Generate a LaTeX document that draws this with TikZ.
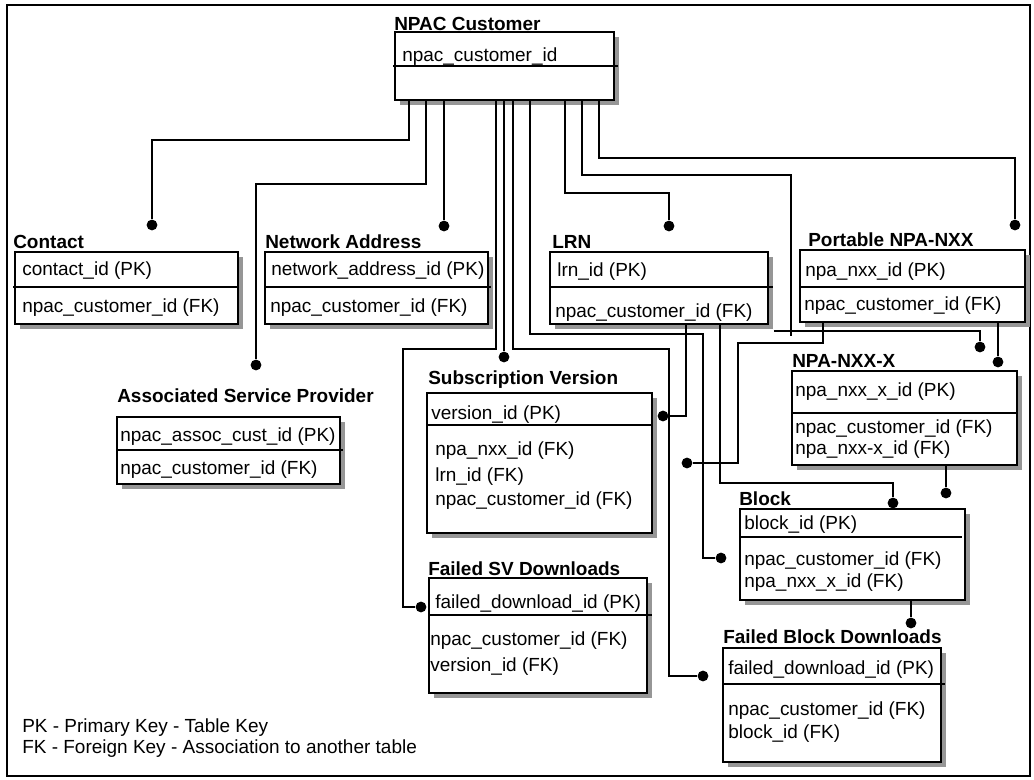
\documentclass[tikz,border=0pt]{standalone}
\usepackage{fontspec}
\setmainfont{Liberation Sans}
\usetikzlibrary{calc,fit,shadows}
\definecolor{shadowgray}{RGB}{150,150,150}
\tikzset{
  ent/.style={draw, line width=1.1pt, fill=white, inner sep=0pt,
    drop shadow={shadow xshift=0.13cm, shadow yshift=-0.13cm, fill=shadowgray, opacity=1}},
  ttl/.style={anchor=base west, inner sep=0pt, font=\fontsize{13.5}{16}\selectfont\bfseries},
  attr/.style={anchor=base west, inner sep=0pt},
  dot/.style={circle, fill=black, inner sep=0pt, minimum size=0.27cm},
  rel/.style={line width=1.1pt},
}
\begin{document}
\begin{tikzpicture}[x=0.025cm, y=-0.025cm, font=\fontsize{13.5}{16}\selectfont]
\useasboundingbox (0,0) rectangle (1034,780);
\draw[line width=1.4pt] (7,5) rectangle (1030,776);
% tables
\node[ent, fit={(395,32) (614,100)}] (cust) {};
\node[ent, fit={(15,252) (238,324)}] (contact) {};
\node[ent, fit={(265,252) (488,324)}] (netaddr) {};
\node[ent, fit={(550,252) (768,324)}] (lrn) {};
\node[ent, fit={(800,250) (1025,322)}] (pnxx) {};
\node[ent, fit={(117,417) (340,484)}] (assocsp) {};
\node[ent, line width=2pt, fit={(427,393) (652,533)}] (subver) {};
\node[ent, fit={(792,371) (1017,465)}] (nxxx) {};
\node[ent, fit={(740,509) (965,600)}] (block) {};
\node[ent, fit={(429,578) (647,693)}] (failsv) {};
\node[ent, fit={(723,648) (941,762)}] (failblk) {};
% key dividers
\draw[rel] (393,66) -- (618,66);
\draw[rel] (13,287) -- (238,287);
\draw[rel] (265,287) -- (491,287);
\draw[rel] (550,287) -- (773,287);
\draw[rel] (800,287) -- (1025,287);
\draw[rel] (117,450) -- (343,450);
\draw[rel] (427,425) -- (652,425);
\draw[rel] (792,413) -- (1017,413);
\draw[rel] (740,537) -- (962,537);
\draw[rel] (429,615) -- (652,615);
\draw[rel] (723,684) -- (945,684);
% titles and columns
\node[ttl] (cust-t) at (394,31) {NPAC Customer};
\node[attr] (cust-pk) at (402,62) {npac\_customer\_id};
\node[ttl] (contact-t) at (13,249) {Contact};
\node[attr] (contact-pk) at (22,276) {contact\_id (PK)};
\node[attr] (contact-fk) at (22,313) {npac\_customer\_id (FK)};
\node[ttl] (netaddr-t) at (265,249) {Network Address};
\node[attr] (netaddr-pk) at (271,276) {network\_address\_id (PK)};
\node[attr] (netaddr-fk) at (270,313) {npac\_customer\_id (FK)};
\node[ttl] (lrn-t) at (552,249) {LRN};
\node[attr] (lrn-pk) at (557,277) {lrn\_id (PK)};
\node[attr] (lrn-fk) at (555,318) {npac\_customer\_id (FK)};
\node[ttl] (pnxx-t) at (808,247) {Portable NPA-NXX};
\node[attr] (pnxx-pk) at (805,277) {npa\_nxx\_id (PK)};
\node[attr] (pnxx-fk) at (804,311) {npac\_customer\_id (FK)};
\node[ttl] (assocsp-t) at (117,403) {Associated Service Provider};
\node[attr] (assocsp-pk) at (120,442) {npac\_assoc\_cust\_id (PK)};
\node[attr] (assocsp-fk) at (120,475) {npac\_customer\_id (FK)};
\node[ttl] (subver-t) at (428,385) {Subscription Version};
\node[attr] (subver-pk) at (431,420) {version\_id (PK)};
\node[attr] (subver-fk1) at (435,456) {npa\_nxx\_id (FK)};
\node[attr] (subver-fk2) at (435,482) {lrn\_id (FK)};
\node[attr] (subver-fk3) at (435,506) {npac\_customer\_id (FK)};
\node[ttl] (nxxx-t) at (792,368) {NPA-NXX-X};
\node[attr] (nxxx-pk) at (795,397) {npa\_nxx\_x\_id (PK)};
\node[attr] (nxxx-fk1) at (795,434) {npac\_customer\_id (FK)};
\node[attr] (nxxx-fk2) at (795,455) {npa\_nxx-x\_id (FK)};
\node[ttl] (block-t) at (739,506) {Block};
\node[attr] (block-pk) at (744,530) {block\_id (PK)};
\node[attr] (block-fk1) at (744,566) {npac\_customer\_id (FK)};
\node[attr] (block-fk2) at (744,588) {npa\_nxx\_x\_id (FK)};
\node[ttl] (failsv-t) at (428,575) {Failed SV Downloads};
\node[attr] (failsv-pk) at (435,609) {failed\_download\_id (PK)};
\node[attr] (failsv-fk1) at (430,646) {npac\_customer\_id (FK)};
\node[attr] (failsv-fk2) at (430,671) {version\_id (FK)};
\node[ttl] (failblk-t) at (723,644) {Failed Block Downloads};
\node[attr] (failblk-pk) at (728,674) {failed\_download\_id (PK)};
\node[attr] (failblk-fk1) at (728,715) {npac\_customer\_id (FK)};
\node[attr] (failblk-fk2) at (728,738) {block\_id (FK)};
% legend
\node[attr] (key1) at (22,732) {PK - Primary Key - Table Key};
\node[attr] (key2) at (22,753) {FK - Foreign Key - Association to another table};
% relationship ends
\node[dot] (d-contact) at (152,225) {};
\node[dot] (d-netaddr) at (444,226) {};
\node[dot] (d-lrn) at (669,226) {};
\node[dot] (d-pnxx) at (1015,225) {};
\node[dot] (d-assocsp) at (256,365) {};
\node[dot] (d-subver1) at (504,357) {};
\node[dot] (d-subver2) at (663,416) {};
\node[dot] (d-subver3) at (687,463) {};
\node[dot] (d-nxxx1) at (980,347) {};
\node[dot] (d-nxxx2) at (998,362) {};
\node[dot] (d-block1) at (893,503) {};
\node[dot] (d-block2) at (721,558) {};
\node[dot] (d-block3) at (946,493) {};
\node[dot] (d-failsv) at (421,607) {};
\node[dot] (d-failblk1) at (703,676) {};
\node[dot] (d-failblk2) at (911,623) {};
% relationships
\draw[rel] ($(cust.south west)+(15,0)$) -- ++(0,39) -| (d-contact);
\draw[rel] ($(cust.south west)+(32,0)$) -- ++(0,83) -| (d-assocsp);
\draw[rel] (d-netaddr |- cust.south) -- (d-netaddr);
\draw[rel] ($(cust.south west)+(102,0)$) -- ++(0,248) -| ($(d-failsv)+(-18,0)$) -- (d-failsv);
\draw[rel] (d-subver1 |- cust.south) -- (d-subver1);
\draw[rel] ($(cust.south west)+(119,0)$) -- ++(0,248) -| ($(d-failblk1)+(-34,0)$) -- (d-failblk1);
\draw[rel] ($(cust.south west)+(136,0)$) -- ++(0,233) -| ($(d-block2)+(-18,0)$) -- (d-block2);
\draw[rel] ($(cust.south west)+(171,0)$) -- ++(0,92) -| (d-lrn);
\draw[rel] ($(cust.south west)+(188,0)$) -- ++(0,74) -| ($(lrn.south east)+(22,11)$);
\draw[rel] ($(lrn.south east)+(5,6)$) -| (d-nxxx1);
\draw[rel] ($(cust.south west)+(205,0)$) -- ++(0,57) -| (d-pnxx);
\draw[rel] ($(lrn.south west)+(137,0)$) |- (d-subver2);
\draw[rel] ($(lrn.south west)+(171,0)$) -- ++(0,158) -| (d-block1);
\draw[rel] ($(pnxx.south west)+(24,0)$) -- ++(0,20) -| ($(d-subver3)+(51,0)$) -- (d-subver3);
\draw[rel] (d-nxxx2 |- pnxx.south) -- (d-nxxx2);
\draw[rel] (d-block3 |- nxxx.south) -- (d-block3);
\draw[rel] (d-failblk2 |- block.south) -- (d-failblk2);
\end{tikzpicture}
\end{document}
